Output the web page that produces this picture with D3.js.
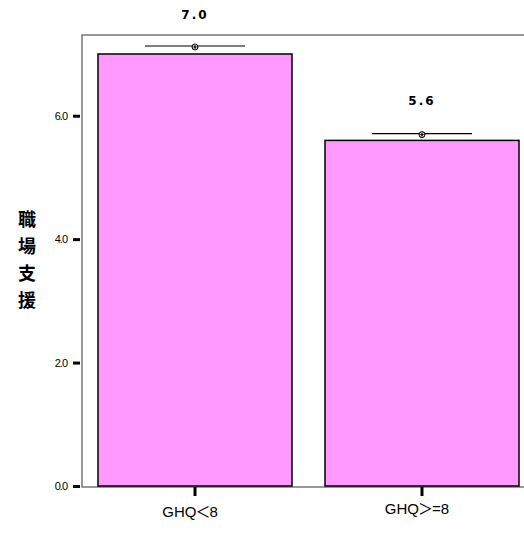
<!DOCTYPE html>
<html>
<head>
<meta charset="utf-8">
<script src="https://cdn.jsdelivr.net/npm/d3@7"></script>
<style>
  html, body { margin: 0; padding: 0; background: #fff; }
  svg { display: block; }
</style>
</head>
<body>
<svg id="chart" width="524" height="533"></svg>
<script>
// Group means of workplace support by GHQ score
const categories = ["GHQ＜8", "GHQ＞=8"];
const means = [7.0, 5.6];
const upperErr = [7.13, 5.71];
const valueLabels = ["7.0", "5.6"];
const yTicks = [0, 2, 4, 6];
const yTickLabels = ["0.0", "2.0", "4.0", "6.0"];
const yTitle = ["職", "場", "支", "援"];

const svg = d3.select("#chart");
const frameLeft = 82, frameTop = 35, frameBottom = 487, frameRight = 530;

const x = d3.scaleBand()
  .domain(categories)
  .range([98, 519])
  .paddingInner(33 / 227)
  .paddingOuter(0);

const y = d3.scaleLinear().domain([0, 7]).range([486, 54]);

// Plot frame
svg.append("path")
  .attr("d", `M${frameRight},${frameTop} H${frameLeft} V${frameBottom} H${frameRight}`)
  .attr("fill", "none")
  .attr("stroke", "#777")
  .attr("stroke-width", 1.5);

// Bars
svg.selectAll("rect.bar")
  .data(categories)
  .join("rect")
  .attr("class", "bar")
  .attr("x", d => x(d))
  .attr("y", (d, i) => y(means[i]))
  .attr("width", x.bandwidth())
  .attr("height", (d, i) => y(0) - y(means[i]))
  .attr("fill", "#ff99ff")
  .attr("stroke", "#000")
  .attr("stroke-width", 1.5);

// Upper error caps with markers
const capHalf = 50;
categories.forEach((c, i) => {
  const cx = x(c) + x.bandwidth() / 2;
  const cy = y(upperErr[i]);
  svg.append("line")
    .attr("x1", cx - capHalf).attr("x2", cx + capHalf)
    .attr("y1", cy).attr("y2", cy)
    .attr("stroke", "#000").attr("stroke-width", 1.2);
  const m = svg.append("g").attr("transform", `translate(${cx},${cy + 1})`);
  m.append("circle").attr("r", 3).attr("fill", "#fff").attr("stroke", "#000").attr("stroke-width", 1);
  [0, 60, 120].forEach(a => {
    const r = a * Math.PI / 180;
    m.append("line")
      .attr("x1", -3 * Math.cos(r)).attr("y1", -3 * Math.sin(r))
      .attr("x2", 3 * Math.cos(r)).attr("y2", 3 * Math.sin(r))
      .attr("stroke", "#000").attr("stroke-width", 0.8);
  });
});

// Value labels above the bars
svg.selectAll("text.value")
  .data(categories)
  .join("text")
  .attr("class", "value")
  .attr("x", d => x(d) + x.bandwidth() / 2)
  .attr("y", (d, i) => y(means[i]) - 39)
  .attr("text-anchor", "middle")
  .attr("dominant-baseline", "middle")
  .attr("font-family", "'DejaVu Sans', sans-serif")
  .attr("font-weight", "bold")
  .attr("font-size", 12)
  .attr("letter-spacing", 2)
  .text((d, i) => valueLabels[i]);

// Y axis
const yAxis = d3.axisLeft(y)
  .tickValues(yTicks)
  .tickFormat((d, i) => yTickLabels[i])
  .tickSize(7)
  .tickPadding(6);
const gy = svg.append("g").attr("transform", "translate(80,0)").call(yAxis);
gy.select(".domain").remove();
gy.selectAll(".tick line").attr("stroke", "#000").attr("stroke-width", 3);
gy.selectAll(".tick text")
  .attr("font-family", "'Liberation Sans', Arial, sans-serif")
  .attr("font-size", 11)
  .attr("letter-spacing", -1)
  .attr("fill", "#000");

// X axis; the full-width comparison sign is pulled in slightly from its em box
const xAxis = d3.axisBottom(x).tickSize(9).tickPadding(10);
const gx = svg.append("g").attr("transform", `translate(0,${frameBottom})`).call(xAxis);
gx.select(".domain").remove();
gx.selectAll(".tick line").attr("stroke", "#000").attr("stroke-width", 3);
gx.selectAll(".tick text")
  .attr("font-family", "'Liberation Sans', Arial, sans-serif")
  .attr("font-size", 15)
  .attr("fill", "#000")
  .attr("x", -5)
  .attr("dy", (d, i) => i === 0 ? "0.71em" : "0.5em")
  .each(function (d) {
    const t = d3.select(this).text("");
    const parts = d.match(/^([A-Z]+)([＜＞])(.*)$/);
    t.append("tspan").text(parts[1]);
    t.append("tspan").attr("dx", -1).attr("font-family", "'Noto Sans CJK JP', sans-serif").text(parts[2]);
    t.append("tspan").attr("dx", -1).text(parts[3]);
  });

// Y axis title, stacked vertically
svg.append("g")
  .selectAll("text")
  .data(yTitle)
  .join("text")
  .attr("x", 27)
  .attr("y", (d, i) => 221 + i * 27)
  .attr("text-anchor", "middle")
  .attr("dominant-baseline", "middle")
  .attr("font-family", "'Noto Sans CJK JP', sans-serif")
  .attr("font-weight", "bold")
  .attr("font-size", 18)
  .text(d => d);
</script>
</body>
</html>
